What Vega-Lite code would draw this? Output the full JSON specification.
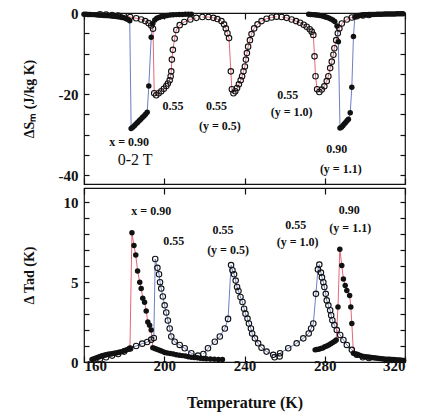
{
  "$schema": "https://vega.github.io/schema/vega-lite/v6.json",
  "padding": {"left": 21, "top": 5, "right": 5, "bottom": 5},
  "spacing": 0,
  "config": {
    "font": "Liberation Serif",
    "view": {"stroke": "#111", "strokeWidth": 1.2},
    "axis": {"labelFont": "Liberation Serif", "labelFontSize": 15, "labelFontWeight": "bold", "labelColor": "#111",
             "titleFont": "Liberation Serif", "titleFontSize": 14, "titleFontWeight": "bold", "titleColor": "#111",
             "tickColor": "#111", "tickWidth": 1.2, "grid": false, "domain": false}
  },
  "resolve": {"scale": {"x": "independent", "y": "independent", "color": "independent"}},
  "datasets": {
    "top": [
      {"s":"A","t":160,"v":-0.3},{"s":"A","t":161,"v":-0.3},{"s":"A","t":162,"v":-0.35},{"s":"A","t":163,"v":-0.35},{"s":"A","t":164,"v":-0.4},{"s":"A","t":165,"v":-0.4},{"s":"A","t":166,"v":-0.45},{"s":"A","t":167,"v":-0.5},{"s":"A","t":168,"v":-0.5},{"s":"A","t":169,"v":-0.55},{"s":"A","t":170,"v":-0.6},{"s":"A","t":171,"v":-0.6},{"s":"A","t":172,"v":-0.65},{"s":"A","t":173,"v":-0.7},{"s":"A","t":174,"v":-0.75},{"s":"A","t":175,"v":-0.8},{"s":"A","t":176,"v":-0.85},{"s":"A","t":177,"v":-0.9},{"s":"A","t":178,"v":-1.0},{"s":"A","t":179,"v":-1.1},{"s":"A","t":180,"v":-1.2},{"s":"A","t":181,"v":-1.4},{"s":"A","t":182,"v":-1.6},{"s":"A","t":182.8,"v":-1.9},
      {"s":"A","t":183.5,"v":-28.5},{"s":"A","t":184.3,"v":-28.2},{"s":"A","t":185.1,"v":-27.8},{"s":"A","t":185.9,"v":-27.4},{"s":"A","t":186.7,"v":-27.0},{"s":"A","t":187.5,"v":-26.6},{"s":"A","t":188.3,"v":-26.2},{"s":"A","t":189.1,"v":-25.8},{"s":"A","t":189.9,"v":-25.4},{"s":"A","t":190.7,"v":-25.0},{"s":"A","t":191.5,"v":-24.5},{"s":"A","t":192.3,"v":-18.0},{"s":"A","t":193.5,"v":-6.0},{"s":"A","t":194.3,"v":-2.6},
      {"s":"A","t":195.3,"v":-1.7},{"s":"A","t":196.3,"v":-1.3},{"s":"A","t":197.3,"v":-1.1},{"s":"A","t":198.3,"v":-0.9},{"s":"A","t":199.5,"v":-0.8},{"s":"A","t":200.5,"v":-0.7},{"s":"A","t":201.5,"v":-0.6},{"s":"A","t":203,"v":-0.5},{"s":"A","t":204.5,"v":-0.45},{"s":"A","t":206,"v":-0.4},{"s":"A","t":207.5,"v":-0.35},{"s":"A","t":209,"v":-0.35},{"s":"A","t":210.5,"v":-0.3},{"s":"A","t":212,"v":-0.3},{"s":"A","t":213.5,"v":-0.3},
      {"s":"B","t":168,"v":-0.3},{"s":"B","t":171,"v":-0.4},{"s":"B","t":174,"v":-0.5},{"s":"B","t":177,"v":-0.6},{"s":"B","t":180,"v":-0.8},{"s":"B","t":183,"v":-1.0},{"s":"B","t":186,"v":-1.3},{"s":"B","t":188.5,"v":-1.6},{"s":"B","t":190.5,"v":-2.0},{"s":"B","t":192.2,"v":-2.5},{"s":"B","t":193.5,"v":-3.1},{"s":"B","t":194.4,"v":-3.9},{"s":"B","t":195,"v":-19.8},{"s":"B","t":196,"v":-20.3},{"s":"B","t":197.2,"v":-19.8},{"s":"B","t":198.5,"v":-19.3},{"s":"B","t":199.8,"v":-18.7},{"s":"B","t":201,"v":-18.0},{"s":"B","t":201.8,"v":-17.4},{"s":"B","t":202.7,"v":-16.6},{"s":"B","t":203.2,"v":-15.6},{"s":"B","t":203.5,"v":-14.4},{"s":"B","t":203.8,"v":-11.5},{"s":"B","t":204.3,"v":-9.1},{"s":"B","t":205.2,"v":-6.3},{"s":"B","t":206,"v":-4.2},{"s":"B","t":207.7,"v":-3.0},{"s":"B","t":210,"v":-2.2},{"s":"B","t":213,"v":-1.6},{"s":"B","t":216,"v":-1.2},
      {"s":"C","t":219,"v":-1.0},{"s":"C","t":222,"v":-1.0},{"s":"C","t":224.5,"v":-1.2},{"s":"C","t":226.5,"v":-1.5},{"s":"C","t":228.5,"v":-2.0},{"s":"C","t":229.8,"v":-2.8},{"s":"C","t":230.7,"v":-3.8},{"s":"C","t":231.5,"v":-5.0},{"s":"C","t":232.3,"v":-6.2},{"s":"C","t":233.2,"v":-14.4},{"s":"C","t":233.7,"v":-18.8},{"s":"C","t":234.5,"v":-19.8},{"s":"C","t":235.4,"v":-19.3},{"s":"C","t":236.3,"v":-18.5},{"s":"C","t":237.2,"v":-17.6},{"s":"C","t":238.1,"v":-16.6},{"s":"C","t":238.8,"v":-15.6},{"s":"C","t":239.5,"v":-14.4},{"s":"C","t":240.2,"v":-13.2},{"s":"C","t":240.7,"v":-11.5},{"s":"C","t":241.2,"v":-9.9},{"s":"C","t":241.8,"v":-8.3},{"s":"C","t":242.7,"v":-6.7},{"s":"C","t":243.5,"v":-5.2},{"s":"C","t":244.8,"v":-3.8},{"s":"C","t":246.5,"v":-2.8},{"s":"C","t":248.5,"v":-2.0},{"s":"C","t":251,"v":-1.4},{"s":"C","t":253.5,"v":-1.1},{"s":"C","t":256,"v":-0.9},
      {"s":"D","t":258.5,"v":-1.0},{"s":"D","t":261,"v":-1.2},{"s":"D","t":263.5,"v":-1.6},{"s":"D","t":265.7,"v":-2.0},{"s":"D","t":267.7,"v":-2.4},{"s":"D","t":269.5,"v":-2.9},{"s":"D","t":271,"v":-3.4},{"s":"D","t":272.5,"v":-4.0},{"s":"D","t":273.5,"v":-4.6},{"s":"D","t":274.3,"v":-5.4},{"s":"D","t":274.9,"v":-10.7},{"s":"D","t":275.4,"v":-15.6},{"s":"D","t":276.2,"v":-18.8},{"s":"D","t":277.3,"v":-19.5},{"s":"D","t":278.5,"v":-18.9},{"s":"D","t":279.8,"v":-18.1},{"s":"D","t":281,"v":-16.8},{"s":"D","t":281.8,"v":-15.6},{"s":"D","t":282.7,"v":-13.6},{"s":"D","t":283.5,"v":-12.0},{"s":"D","t":284.3,"v":-10.3},{"s":"D","t":284.8,"v":-8.7},{"s":"D","t":285.7,"v":-6.7},{"s":"D","t":286.5,"v":-5.0},{"s":"D","t":287.3,"v":-3.8},{"s":"D","t":288.5,"v":-2.6},{"s":"D","t":291,"v":-1.6},{"s":"D","t":293.5,"v":-1.1},{"s":"D","t":296,"v":-0.8},{"s":"D","t":299,"v":-0.6},{"s":"D","t":302,"v":-0.5},
      {"s":"E","t":272,"v":-0.3},{"s":"E","t":273,"v":-0.35},{"s":"E","t":274,"v":-0.4},{"s":"E","t":275,"v":-0.45},{"s":"E","t":276,"v":-0.5},{"s":"E","t":277,"v":-0.55},{"s":"E","t":278,"v":-0.65},{"s":"E","t":279,"v":-0.75},{"s":"E","t":280,"v":-0.9},{"s":"E","t":281,"v":-1.05},{"s":"E","t":282,"v":-1.25},{"s":"E","t":283,"v":-1.45},{"s":"E","t":284,"v":-1.7},{"s":"E","t":285,"v":-2.1},{"s":"E","t":286.1,"v":-3.2},{"s":"E","t":286.8,"v":-7.1},
      {"s":"E","t":287.6,"v":-28.4},{"s":"E","t":288.3,"v":-28.2},{"s":"E","t":289,"v":-27.8},{"s":"E","t":289.7,"v":-27.4},{"s":"E","t":290.4,"v":-27.0},{"s":"E","t":291.1,"v":-26.6},{"s":"E","t":291.8,"v":-26.2},{"s":"E","t":292.7,"v":-24.6},{"s":"E","t":293.5,"v":-18.3},{"s":"E","t":294.3,"v":-5.8},{"s":"E","t":295,"v":-1.0},
      {"s":"E","t":296,"v":-0.7},{"s":"E","t":297,"v":-0.62},{"s":"E","t":298,"v":-0.56},{"s":"E","t":299,"v":-0.5},{"s":"E","t":300,"v":-0.46},{"s":"E","t":301,"v":-0.43},{"s":"E","t":302,"v":-0.4},{"s":"E","t":303,"v":-0.38},{"s":"E","t":304,"v":-0.36},{"s":"E","t":305,"v":-0.34},{"s":"E","t":306,"v":-0.32},{"s":"E","t":307,"v":-0.3},{"s":"E","t":308,"v":-0.29},{"s":"E","t":309,"v":-0.28},{"s":"E","t":310,"v":-0.27},{"s":"E","t":311,"v":-0.26},{"s":"E","t":312,"v":-0.25},{"s":"E","t":313,"v":-0.24},{"s":"E","t":314,"v":-0.23},{"s":"E","t":315,"v":-0.22},{"s":"E","t":316,"v":-0.21},{"s":"E","t":317,"v":-0.2},{"s":"E","t":318,"v":-0.2},{"s":"E","t":319,"v":-0.2}
    ],
    "bot": [
      {"s":"A","t":164,"v":0.15},{"s":"A","t":165,"v":0.2},{"s":"A","t":166,"v":0.25},{"s":"A","t":167,"v":0.3},{"s":"A","t":168,"v":0.35},{"s":"A","t":169,"v":0.4},{"s":"A","t":170,"v":0.42},{"s":"A","t":171,"v":0.45},{"s":"A","t":172,"v":0.48},{"s":"A","t":173,"v":0.5},{"s":"A","t":174,"v":0.52},{"s":"A","t":175,"v":0.55},{"s":"A","t":176,"v":0.57},{"s":"A","t":177,"v":0.6},{"s":"A","t":178,"v":0.62},{"s":"A","t":179,"v":0.65},{"s":"A","t":180,"v":0.7},{"s":"A","t":181,"v":0.75},{"s":"A","t":182,"v":0.8},{"s":"A","t":182.9,"v":0.85},
      {"s":"A","t":183.9,"v":8.1},{"s":"A","t":184.9,"v":7.3},{"s":"A","t":185.8,"v":6.7},{"s":"A","t":186.7,"v":5.7},{"s":"A","t":187.8,"v":5.0},{"s":"A","t":188.5,"v":4.6},{"s":"A","t":189.3,"v":4.0},{"s":"A","t":190.2,"v":3.75},{"s":"A","t":191,"v":3.2},{"s":"A","t":191.8,"v":2.5},{"s":"A","t":192.7,"v":2.3},{"s":"A","t":193.5,"v":2.0},{"s":"A","t":194.3,"v":0.9},
      {"s":"A","t":195.3,"v":0.85},{"s":"A","t":196.3,"v":0.8},{"s":"A","t":197.3,"v":0.75},{"s":"A","t":198.3,"v":0.7},{"s":"A","t":199.3,"v":0.65},{"s":"A","t":200.3,"v":0.6},{"s":"A","t":201.5,"v":0.57},{"s":"A","t":203,"v":0.53},{"s":"A","t":204.5,"v":0.5},{"s":"A","t":206,"v":0.45},{"s":"A","t":207.5,"v":0.42},{"s":"A","t":209,"v":0.4},{"s":"A","t":210.5,"v":0.37},{"s":"A","t":212,"v":0.33},{"s":"A","t":213.5,"v":0.3},{"s":"A","t":215,"v":0.28},{"s":"A","t":216.5,"v":0.26},{"s":"A","t":218,"v":0.24},{"s":"A","t":219.5,"v":0.22},{"s":"A","t":221,"v":0.2},{"s":"A","t":223,"v":0.19},{"s":"A","t":225,"v":0.18},{"s":"A","t":227,"v":0.16},{"s":"A","t":229,"v":0.15},
      {"s":"B","t":168,"v":0.2},{"s":"B","t":171,"v":0.3},{"s":"B","t":174,"v":0.4},{"s":"B","t":177,"v":0.5},{"s":"B","t":180,"v":0.65},{"s":"B","t":183,"v":0.85},{"s":"B","t":186,"v":1.0},{"s":"B","t":189,"v":1.15},{"s":"B","t":191.5,"v":1.25},{"s":"B","t":193.5,"v":1.4},{"s":"B","t":194.8,"v":1.5},{"s":"B","t":195.5,"v":6.45},{"s":"B","t":196.6,"v":5.9},{"s":"B","t":197.4,"v":5.5},{"s":"B","t":197.9,"v":5.0},{"s":"B","t":198.5,"v":4.6},{"s":"B","t":199.3,"v":4.1},{"s":"B","t":200.2,"v":3.55},{"s":"B","t":201,"v":3.1},{"s":"B","t":201.8,"v":2.6},{"s":"B","t":202.7,"v":2.1},{"s":"B","t":203.5,"v":1.6},{"s":"B","t":205.2,"v":1.27},{"s":"B","t":207.7,"v":1.07},{"s":"B","t":210.2,"v":0.86},{"s":"B","t":213.5,"v":0.55},{"s":"B","t":216.8,"v":0.4},
      {"s":"C","t":219.5,"v":0.5},{"s":"C","t":221.8,"v":0.86},{"s":"C","t":225.2,"v":1.27},{"s":"C","t":227.7,"v":1.6},{"s":"C","t":230.2,"v":2.1},{"s":"C","t":231.8,"v":2.7},{"s":"C","t":233.3,"v":6.07},{"s":"C","t":234,"v":5.75},{"s":"C","t":234.8,"v":5.5},{"s":"C","t":235.6,"v":5.1},{"s":"C","t":236.3,"v":4.7},{"s":"C","t":237,"v":4.45},{"s":"C","t":238,"v":4.07},{"s":"C","t":239,"v":3.76},{"s":"C","t":239.8,"v":3.34},{"s":"C","t":240.5,"v":3.03},{"s":"C","t":241.5,"v":2.72},{"s":"C","t":242.2,"v":2.41},{"s":"C","t":243.2,"v":2.1},{"s":"C","t":243.8,"v":1.79},{"s":"C","t":245.2,"v":1.48},{"s":"C","t":246.8,"v":1.17},{"s":"C","t":248.5,"v":0.9},{"s":"C","t":251,"v":0.65},{"s":"C","t":254.3,"v":0.45},{"s":"C","t":257.5,"v":0.35},
      {"s":"D","t":255,"v":0.3},{"s":"D","t":257.7,"v":0.55},{"s":"D","t":261.8,"v":0.86},{"s":"D","t":266,"v":1.17},{"s":"D","t":269.3,"v":1.48},{"s":"D","t":272,"v":1.79},{"s":"D","t":273.2,"v":2.1},{"s":"D","t":274.3,"v":2.41},{"s":"D","t":275.6,"v":4.27},{"s":"D","t":276.6,"v":5.8},{"s":"D","t":277.3,"v":6.1},{"s":"D","t":278.1,"v":5.6},{"s":"D","t":278.6,"v":5.3},{"s":"D","t":279.3,"v":5.0},{"s":"D","t":279.8,"v":4.7},{"s":"D","t":280.5,"v":4.27},{"s":"D","t":281,"v":3.86},{"s":"D","t":281.8,"v":3.55},{"s":"D","t":282.7,"v":3.24},{"s":"D","t":283.2,"v":2.93},{"s":"D","t":283.8,"v":2.62},{"s":"D","t":284.8,"v":2.31},{"s":"D","t":286,"v":2.0},{"s":"D","t":287.7,"v":1.69},{"s":"D","t":289.3,"v":1.38},{"s":"D","t":291,"v":1.07},{"s":"D","t":293.5,"v":0.76},{"s":"D","t":296,"v":0.45},{"s":"D","t":299,"v":0.3},{"s":"D","t":302,"v":0.25},
      {"s":"E","t":275.2,"v":0.76},{"s":"E","t":276,"v":0.78},{"s":"E","t":277,"v":0.8},{"s":"E","t":278,"v":0.84},{"s":"E","t":279,"v":0.88},{"s":"E","t":280,"v":0.95},{"s":"E","t":281,"v":1.0},{"s":"E","t":282,"v":1.07},{"s":"E","t":283,"v":1.15},{"s":"E","t":284,"v":1.22},{"s":"E","t":285,"v":1.3},{"s":"E","t":285.7,"v":1.38},{"s":"E","t":286.6,"v":3.45},{"s":"E","t":287.5,"v":7.07},{"s":"E","t":288.5,"v":6.04},{"s":"E","t":289.3,"v":5.2},{"s":"E","t":290.2,"v":4.8},{"s":"E","t":291,"v":4.48},{"s":"E","t":292.4,"v":4.17},{"s":"E","t":293,"v":3.45},{"s":"E","t":293.5,"v":2.41},{"s":"E","t":294.3,"v":0.55},
      {"s":"E","t":295.3,"v":0.5},{"s":"E","t":296.3,"v":0.45},{"s":"E","t":297.3,"v":0.42},{"s":"E","t":298.3,"v":0.38},{"s":"E","t":299.3,"v":0.35},{"s":"E","t":300.3,"v":0.33},{"s":"E","t":301.3,"v":0.31},{"s":"E","t":302.3,"v":0.3},{"s":"E","t":303.3,"v":0.28},{"s":"E","t":304.3,"v":0.26},{"s":"E","t":305.3,"v":0.25},{"s":"E","t":306.3,"v":0.23},{"s":"E","t":307.3,"v":0.22},{"s":"E","t":308.3,"v":0.2},{"s":"E","t":309.3,"v":0.19},{"s":"E","t":310.3,"v":0.18},{"s":"E","t":311.3,"v":0.18},{"s":"E","t":312.3,"v":0.17},{"s":"E","t":313.3,"v":0.16},{"s":"E","t":314.3,"v":0.15},{"s":"E","t":315.3,"v":0.14},{"s":"E","t":316.3,"v":0.13},{"s":"E","t":317.3,"v":0.12},{"s":"E","t":318.3,"v":0.11},{"s":"E","t":319.3,"v":0.1}
    ],
    "topText": [
      {"t":182.5,"v":-31.8,"label":"x = 0.90"},
      {"t":204.3,"v":-22.9,"label":"0.55"},
      {"t":226,"v":-22.9,"label":"0.55"},
      {"t":227.7,"v":-27.9,"label":"(y = 0.5)"},
      {"t":261.5,"v":-20.3,"label":"0.55"},
      {"t":263.5,"v":-24.5,"label":"(y = 1.0)"},
      {"t":286,"v":-33.5,"label":"0.90"},
      {"t":288,"v":-38.5,"label":"(y = 1.1)"}
    ],
    "botText": [
      {"t":193.5,"v":9.45,"label":"x = 0.90"},
      {"t":204.7,"v":7.55,"label":"0.55"},
      {"t":229.3,"v":8.3,"label":"0.55"},
      {"t":231.8,"v":7.0,"label":"(y = 0.5)"},
      {"t":265.5,"v":8.6,"label":"0.55"},
      {"t":266.5,"v":7.5,"label":"(y = 1.0)"},
      {"t":292.2,"v":9.55,"label":"0.90"},
      {"t":292.7,"v":8.4,"label":"(y = 1.1)"}
    ]
  },
  "vconcat": [
    {
      "width": 321, "height": 171,
      "resolve": {"axis": {"x": "independent", "y": "independent"}},
      "layer": [
        {
          "data": {"name": "top"},
          "mark": {"type": "line", "strokeWidth": 1},
          "encoding": {
            "x": {"field": "t", "type": "quantitative", "scale": {"domain": [160, 320], "nice": false, "zero": false},
                  "axis": {"orient": "bottom", "values": [160, 200, 240, 280, 320], "labels": false, "title": null, "tickSize": -6}},
            "y": {"field": "v", "type": "quantitative", "scale": {"domain": [-42.2, 0], "nice": false, "zero": false},
                  "axis": {"orient": "left", "values": [0, -5, -10, -15, -20, -25, -30, -35, -40],
                           "labelExpr": "datum.value % 20 === 0 ? '' + datum.value : ''",
                           "tickSize": -5, "labelPadding": 11, "title": "ΔSₘ (J/kg K)", "titlePadding": 21, "minExtent": 27, "maxExtent": 27}},
            "color": {"field": "s", "type": "nominal", "legend": null,
                      "scale": {"domain": ["A", "B", "C", "D", "E"], "range": ["#6b80c6", "#e4677a", "#e4677a", "#e4677a", "#6b80c6"]}}
          }
        },
        {
          "data": {"name": "top"},
          "transform": [{"filter": "datum.s === 'A' || datum.s === 'E'"}],
          "mark": {"type": "point", "filled": true, "size": 30, "color": "#111", "opacity": 1},
          "encoding": {
            "x": {"field": "t", "type": "quantitative", "scale": {"domain": [160, 320], "nice": false, "zero": false},
                  "axis": {"orient": "top", "values": [160, 200, 240, 280, 320], "labels": false, "title": null, "tickSize": -6}},
            "y": {"field": "v", "type": "quantitative", "scale": {"domain": [-42.2, 0], "nice": false, "zero": false},
                  "axis": {"orient": "right", "values": [0, -5, -10, -15, -20, -25, -30, -35, -40], "labels": false, "title": null, "tickSize": -5}}
          }
        },
        {
          "data": {"name": "top"},
          "transform": [{"filter": "datum.s !== 'A' && datum.s !== 'E'"}],
          "mark": {"type": "point", "filled": false, "size": 30, "color": "#111", "strokeWidth": 1.1, "opacity": 1},
          "encoding": {
            "x": {"field": "t", "type": "quantitative", "axis": null},
            "y": {"field": "v", "type": "quantitative", "axis": null}
          }
        },
        {
          "data": {"name": "topText"},
          "mark": {"type": "text", "font": "Liberation Serif", "fontWeight": "bold", "fontSize": 12, "color": "#111", "align": "center", "baseline": "middle"},
          "encoding": {
            "x": {"field": "t", "type": "quantitative", "axis": null},
            "y": {"field": "v", "type": "quantitative", "axis": null},
            "text": {"field": "label", "type": "nominal"}
          }
        },
        {
          "data": {"values": [{"t": 185.5, "v": -36.4, "label": "0-2 T"}]},
          "mark": {"type": "text", "font": "Liberation Serif", "fontSize": 16, "color": "#111", "align": "center", "baseline": "middle"},
          "encoding": {
            "x": {"field": "t", "type": "quantitative", "axis": null},
            "y": {"field": "v", "type": "quantitative", "axis": null},
            "text": {"field": "label", "type": "nominal"}
          }
        }
      ]
    },
    {
      "width": 321, "height": 174,
      "resolve": {"axis": {"x": "independent", "y": "independent"}},
      "layer": [
        {
          "data": {"name": "bot"},
          "mark": {"type": "line", "strokeWidth": 1},
          "encoding": {
            "x": {"field": "t", "type": "quantitative", "scale": {"domain": [160, 320], "nice": false, "zero": false},
                  "axis": {"orient": "bottom", "values": [160, 200, 240, 280, 320], "labels": true, "tickSize": -6, "labelPadding": 2,
                           "title": "Temperature (K)", "titleFontSize": 16, "titlePadding": 21}},
            "y": {"field": "v", "type": "quantitative", "scale": {"domain": [0, 10.9], "nice": false, "zero": false},
                  "axis": {"orient": "left", "values": [0, 1, 2, 3, 4, 5, 6, 7, 8, 9, 10],
                           "labelExpr": "datum.value % 5 === 0 ? '' + datum.value : ''",
                           "tickSize": -5, "labelPadding": 11, "title": "Δ Tad (K)", "titlePadding": 21, "minExtent": 27, "maxExtent": 27}},
            "color": {"field": "s", "type": "nominal", "legend": null,
                      "scale": {"domain": ["A", "B", "C", "D", "E"], "range": ["#e4677a", "#6b80c6", "#6b80c6", "#6b80c6", "#e4677a"]}}
          }
        },
        {
          "data": {"name": "bot"},
          "transform": [{"filter": "datum.s === 'A' || datum.s === 'E'"}],
          "mark": {"type": "point", "filled": true, "size": 30, "color": "#111", "opacity": 1},
          "encoding": {
            "x": {"field": "t", "type": "quantitative", "scale": {"domain": [160, 320], "nice": false, "zero": false},
                  "axis": {"orient": "top", "values": [160, 200, 240, 280, 320], "labels": false, "title": null, "tickSize": -6}},
            "y": {"field": "v", "type": "quantitative", "scale": {"domain": [0, 10.9], "nice": false, "zero": false},
                  "axis": {"orient": "right", "values": [0, 1, 2, 3, 4, 5, 6, 7, 8, 9, 10], "labels": false, "title": null, "tickSize": -5}}
          }
        },
        {
          "data": {"name": "bot"},
          "transform": [{"filter": "datum.s !== 'A' && datum.s !== 'E'"}],
          "mark": {"type": "point", "filled": false, "size": 30, "color": "#111", "strokeWidth": 1.1, "opacity": 1},
          "encoding": {
            "x": {"field": "t", "type": "quantitative", "axis": null},
            "y": {"field": "v", "type": "quantitative", "axis": null}
          }
        },
        {
          "data": {"name": "botText"},
          "mark": {"type": "text", "font": "Liberation Serif", "fontWeight": "bold", "fontSize": 12, "color": "#111", "align": "center", "baseline": "middle"},
          "encoding": {
            "x": {"field": "t", "type": "quantitative", "axis": null},
            "y": {"field": "v", "type": "quantitative", "axis": null},
            "text": {"field": "label", "type": "nominal"}
          }
        }
      ]
    }
  ]
}
